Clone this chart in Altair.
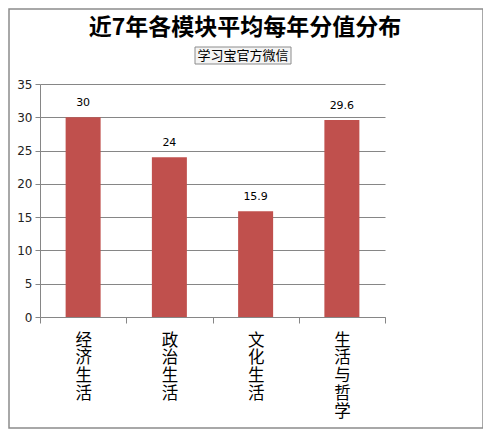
import altair as alt
import pandas as pd

categories = ["经济生活", "政治生活", "文化生活", "生活与哲学"]
values = [30, 24, 15.9, 29.6]
labels = ["30", "24", "15.9", "29.6"]
y_ticks = [0, 5, 10, 15, 20, 25, 30, 35]
title_text = "近7年各模块平均每年分值分布"
subtitle_text = "学习宝官方微信"

df = pd.DataFrame({"cat": categories, "val": values, "lab": labels})
one = pd.DataFrame({"k": [0]})

x = alt.X("cat:N", sort=categories, title=None,
          scale=alt.Scale(paddingInner=0, paddingOuter=0),
          axis=alt.Axis(labelAngle=0, tickBand="extent", labelExpr="split(datum.label, '')",
                        labelFontSize=16.5, labelLineHeight=17.8, labelColor="#000000",
                        labelFont="Noto Sans CJK SC", labelPadding=9, labelBaseline="top",
                        domainColor="#868686", tickColor="#868686", tickSize=6, grid=False))
y = alt.Y("val:Q", title=None,
          scale=alt.Scale(domain=[0, 35], nice=False),
          axis=alt.Axis(values=y_ticks, grid=True, gridColor="#868686", labelOverlap=False,
                        gridOpacity=1, domainColor="#868686", tickColor="#868686", tickSize=5,
                        labelFontSize=12, labelFont="DejaVu Sans", labelColor="#222222",
                        labelPadding=3))

bars = alt.Chart(df).mark_bar(color="#C0504D", size=35).encode(x=x, y=y)
texts = alt.Chart(df).mark_text(baseline="bottom", dy=-9, fontSize=11, font="DejaVu Sans",
                                color="#000000").encode(x=x, y=y, text="lab:N")

title = alt.Chart(one).mark_text(fontSize=23, fontWeight="bold", font="Noto Sans CJK SC",
                                 color="#000000", baseline="middle").encode(
    x=alt.value(205), y=alt.value(-56), text=alt.value(title_text))
box = alt.Chart(one).mark_rect(fill="#f4f4f4", stroke="#8c8c8c", strokeWidth=1).encode(
    x=alt.value(155), x2=alt.value(251), y=alt.value(-37), y2=alt.value(-20))
subtitle = alt.Chart(one).mark_text(fontSize=13, font="Noto Sans CJK SC", color="#000000",
                                    baseline="middle").encode(
    x=alt.value(203), y=alt.value(-28.5), text=alt.value(subtitle_text))
border = alt.Chart(one).mark_rect(fill=None, stroke="#8c8c8c", strokeWidth=1.5).encode(
    x=alt.value(-31), x2=alt.value(443), y=alt.value(-75), y2=alt.value(344))

chart = alt.layer(bars, texts, border, box, subtitle, title).properties(
    width=345, height=233,
    background="white",
    autosize=alt.AutoSizeParams(type="none"),
    padding={"left": 32, "top": 76, "right": 98, "bottom": 113},
).configure_view(stroke=None)

chart.save("out.html", embed_options={"renderer": "svg", "actions": False})
